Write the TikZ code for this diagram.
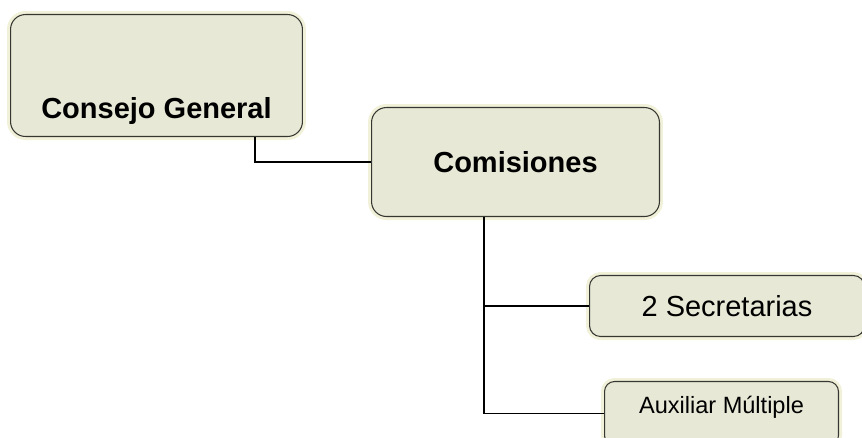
\documentclass[tikz,border=0pt]{standalone}
\usepackage{fontspec}
\setmainfont{Liberation Sans}
\definecolor{boxfill}{RGB}{232,232,214}
\definecolor{boxline}{RGB}{55,55,50}
\definecolor{boxglow}{RGB}{241,241,218}
\begin{document}
\begin{tikzpicture}[x=0.02cm, y=-0.02cm,
    unit/.style={draw=boxline, fill=boxfill, rounded corners=0.3cm, line width=0.6pt,
      inner xsep=0pt, inner ysep=0pt, preaction={draw=boxglow, line width=4pt}},
    big/.style={font=\fontsize{16.5}{20}\selectfont},
    link/.style={line width=0.8pt}]
  \useasboundingbox (0,0) rectangle (862,438);
  \clip (0,0) rectangle (862,438);

  \node [unit, big, anchor=north west, minimum width=5.84cm, text height=2.08cm, text depth=0.36cm] (cg) at (10,14) {\bfseries Consejo General};
  \node [unit, big, anchor=north west, minimum width=5.76cm, minimum height=2.18cm] (com) at (371,107) {\bfseries Comisiones};
  \node [unit, big, anchor=north west, minimum width=5.5cm, minimum height=1.22cm, rounded corners=0.22cm] (sec) at (589,275) {2 Secretarias};
  \node [unit, anchor=north west, minimum width=4.68cm, text height=0.64cm, text depth=0.64cm, rounded corners=0.2cm, font=\fontsize{13.4}{16}\selectfont] (aux) at (604,381) {Auxiliar Múltiple};

  \draw [link] (cg.south -| 255,0) |- (com.west);
  \coordinate (trunk) at (com.south -| 484,0);
  \draw [link] (trunk) |- (aux.west);
  \draw [link] (trunk |- sec.west) -- (sec.west);
\end{tikzpicture}
\end{document}
